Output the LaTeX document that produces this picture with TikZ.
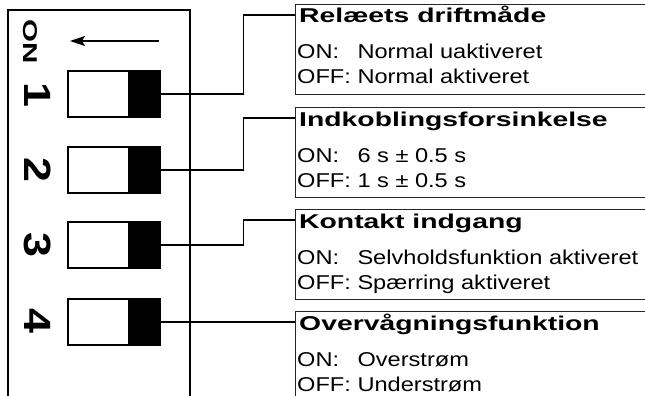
\documentclass[tikz,border=0pt]{standalone}
\usepackage{fontspec}
\setmainfont{Liberation Sans}[FakeStretch=1.18]
\usetikzlibrary{arrows.meta}

\begin{document}
\begin{tikzpicture}[x=1pt,y=-1pt,
    panel/.style={line width=1.5pt},
    switchbox/.style={rectangle,draw,line width=1.1pt,minimum width=92pt,minimum height=46pt,inner sep=0pt},
    knob/.style={rectangle,fill=black,minimum width=32pt,minimum height=46pt,inner sep=0pt,anchor=east},
    digit/.style={font=\fontsize{38}{38}\selectfont\bfseries,rotate=-90,inner sep=0pt},
    infobox/.style={rectangle,draw=black!85,line width=0.9pt,anchor=north west,minimum width=420pt,minimum height=90pt,inner sep=0pt},
    head/.style={anchor=base west,inner sep=0pt,xscale=1.2,font=\fontsize{20}{24}\selectfont\bfseries},
    info/.style={anchor=base west,inner sep=0pt,font=\fontsize{20}{24}\selectfont},
    wire/.style={line width=1.5pt}
]
    \useasboundingbox (0,0) rectangle (645,396);

    % DIP switch housing
    \draw[panel] (8,397) -- (8,10) -- (190,10) -- (190,397);
    \node[font=\fontsize{20}{20}\selectfont\bfseries,rotate=-90,xscale=1.25,inner sep=0pt] (on) at (30,42) {ON};
    \coordinate (arrowstart) at (159,41);
    \coordinate (arrowend) at (70,41);
    \draw[-{Stealth[length=15pt,width=10pt,inset=3pt]},line width=1.2pt] (arrowstart) -- (arrowend);

    % Switches
    \node[digit] (d1) at (38,95) {1};
    \node[digit] (d2) at (38,170) {2};
    \node[digit] (d3) at (38,245) {3};
    \node[digit] (d4) at (38,321) {4};

    \node[switchbox] (sw1) at (114,94) {};
    \node[switchbox] (sw2) at (114,170) {};
    \node[switchbox] (sw3) at (114,245) {};
    \node[switchbox] (sw4) at (114,322) {};

    \node[knob] (k1) at (sw1.east) {};
    \node[knob] (k2) at (sw2.east) {};
    \node[knob] (k3) at (sw3.east) {};
    \node[knob] (k4) at (sw4.east) {};

    % Setting boxes
    \node[infobox] (box1) at (295,4) {};
    \node[infobox] (box2) at (295,107) {};
    \node[infobox] (box3) at (295,209) {};
    \node[infobox] (box4) at (295,311) {};

    \node[head] (h1) at (299,23) {Relæets driftmåde};
    \node[info] (on1) at (297,59) {\rlap{ON:}\phantom{OFF:} Normal uaktiveret};
    \node[info] (off1) at (297,84) {OFF: Normal aktiveret};

    \node[head] (h2) at (299,126) {Indkoblingsforsinkelse};
    \node[info] (on2) at (297,162) {\rlap{ON:}\phantom{OFF:} 6 s ± 0.5 s};
    \node[info] (off2) at (297,187) {OFF: 1 s ± 0.5 s};

    \node[head] (h3) at (299,228) {Kontakt indgang};
    \node[info] (on3) at (297,264) {\rlap{ON:}\phantom{OFF:} Selvholdsfunktion aktiveret};
    \node[info] (off3) at (297,289) {OFF: Spærring aktiveret};

    \node[head] (h4) at (299,330) {Overvågningsfunktion};
    \node[info] (on4) at (297,366) {\rlap{ON:}\phantom{OFF:} Overstrøm};
    \node[info] (off4) at (297,391) {OFF: Understrøm};

    % Connectors
    \draw[wire] (k1.east) -- ++(83,0) |- ([yshift=-11pt]box1.north west);
    \draw[wire] (k2.east) -- ++(83,0) |- ([yshift=-11pt]box2.north west);
    \draw[wire] (k3.east) -- ++(83,0) |- ([yshift=-11pt]box3.north west);
    \draw[wire] (k4.east) -- ([yshift=-11pt]box4.north west);
\end{tikzpicture}
\end{document}
